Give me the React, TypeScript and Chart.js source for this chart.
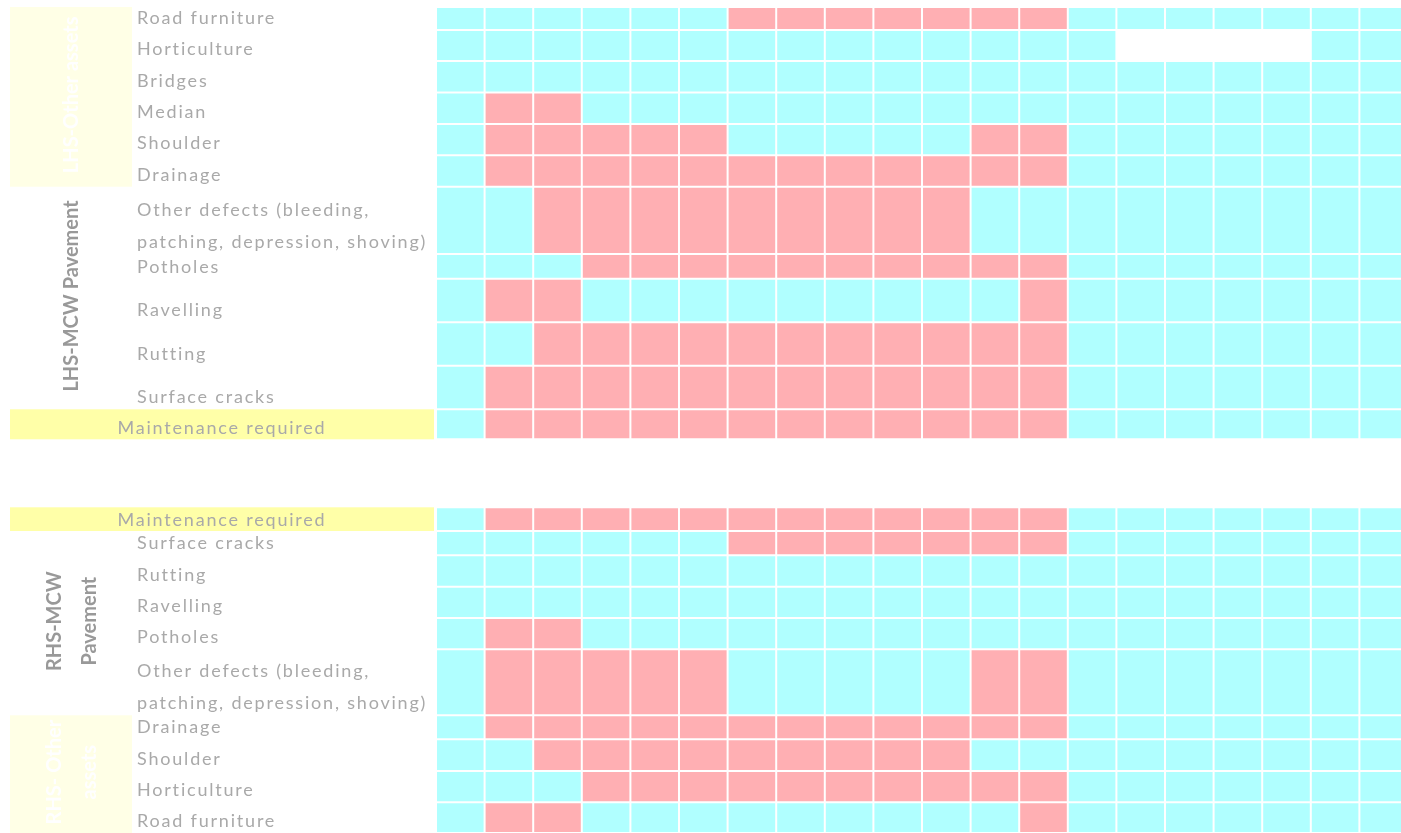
import React, { useEffect, useRef } from 'react';
import { Chart, registerables } from 'chart.js';

Chart.register(...registerables);

// ---------- DATA ----------
// 20 inspection columns (chainage segments)
const COLUMNS = ['1', '2', '3', '4', '5', '6', '7', '8', '9', '10', '11', '12', '13', '14', '15', '16', '17', '18', '19', '20'];

// status: 1 = maintenance required (red), 0 = fine (cyan), null = no data (blank)
const LHS_OTHER_ASSETS = ['Road furniture', 'Horticulture', 'Bridges', 'Median', 'Shoulder', 'Drainage'];
const LHS_OTHER_STATUS = [
  [0, 0, 0, 0, 0, 0, 1, 1, 1, 1, 1, 1, 1, 0, 0, 0, 0, 0, 0, 0],
  [0, 0, 0, 0, 0, 0, 0, 0, 0, 0, 0, 0, 0, 0, null, null, null, null, 0, 0],
  [0, 0, 0, 0, 0, 0, 0, 0, 0, 0, 0, 0, 0, 0, 0, 0, 0, 0, 0, 0],
  [0, 1, 1, 0, 0, 0, 0, 0, 0, 0, 0, 0, 0, 0, 0, 0, 0, 0, 0, 0],
  [0, 1, 1, 1, 1, 1, 0, 0, 0, 0, 0, 1, 1, 0, 0, 0, 0, 0, 0, 0],
  [0, 1, 1, 1, 1, 1, 1, 1, 1, 1, 1, 1, 1, 0, 0, 0, 0, 0, 0, 0],
];

const LHS_PAVEMENT = ['Other defects (bleeding,\npatching, depression, shoving)', 'Potholes', 'Ravelling', 'Rutting', 'Surface cracks'];
const LHS_PAVEMENT_STATUS = [
  [0, 0, 1, 1, 1, 1, 1, 1, 1, 1, 1, 0, 0, 0, 0, 0, 0, 0, 0, 0],
  [0, 0, 0, 1, 1, 1, 1, 1, 1, 1, 1, 1, 1, 0, 0, 0, 0, 0, 0, 0],
  [0, 1, 1, 0, 0, 0, 0, 0, 0, 0, 0, 0, 1, 0, 0, 0, 0, 0, 0, 0],
  [0, 0, 1, 1, 1, 1, 1, 1, 1, 1, 1, 1, 1, 0, 0, 0, 0, 0, 0, 0],
  [0, 1, 1, 1, 1, 1, 1, 1, 1, 1, 1, 1, 1, 0, 0, 0, 0, 0, 0, 0],
];

const LHS_MAINTENANCE = [0, 1, 1, 1, 1, 1, 1, 1, 1, 1, 1, 1, 1, 0, 0, 0, 0, 0, 0, 0];
const RHS_MAINTENANCE = [0, 1, 1, 1, 1, 1, 1, 1, 1, 1, 1, 1, 1, 0, 0, 0, 0, 0, 0, 0];

const RHS_PAVEMENT = ['Surface cracks', 'Rutting', 'Ravelling', 'Potholes', 'Other defects (bleeding,\npatching, depression, shoving)'];
const RHS_PAVEMENT_STATUS = [
  [0, 0, 0, 0, 0, 0, 1, 1, 1, 1, 1, 1, 1, 0, 0, 0, 0, 0, 0, 0],
  [0, 0, 0, 0, 0, 0, 0, 0, 0, 0, 0, 0, 0, 0, 0, 0, 0, 0, 0, 0],
  [0, 0, 0, 0, 0, 0, 0, 0, 0, 0, 0, 0, 0, 0, 0, 0, 0, 0, 0, 0],
  [0, 1, 1, 0, 0, 0, 0, 0, 0, 0, 0, 0, 0, 0, 0, 0, 0, 0, 0, 0],
  [0, 1, 1, 1, 1, 1, 0, 0, 0, 0, 0, 1, 1, 0, 0, 0, 0, 0, 0, 0],
];

const RHS_OTHER_ASSETS = ['Drainage', 'Shoulder', 'Horticulture', 'Road furniture'];
const RHS_OTHER_STATUS = [
  [0, 1, 1, 1, 1, 1, 1, 1, 1, 1, 1, 1, 1, 0, 0, 0, 0, 0, 0, 0],
  [0, 0, 1, 1, 1, 1, 1, 1, 1, 1, 1, 0, 0, 0, 0, 0, 0, 0, 0, 0],
  [0, 0, 0, 1, 1, 1, 1, 1, 1, 1, 1, 1, 1, 0, 0, 0, 0, 0, 0, 0],
  [0, 1, 1, 0, 0, 0, 0, 0, 0, 0, 0, 0, 1, 0, 0, 0, 0, 0, 0, 0],
];

const MAINTENANCE_LABEL = 'Maintenance required';
const GROUP_TITLES = {
  lhsOther: ['LHS-Other assets'],
  lhsPave: ['LHS-MCW Pavement'],
  rhsPave: ['RHS-MCW', 'Pavement'],
  rhsOther: ['RHS- Other', 'assets'],
};

// ---------- LAYOUT (sheet row heights, px) ----------
const H_LHS_OTHER = [23, 31, 31.5, 31.5, 31.3, 31.4];
const H_LHS_PAVE = [67.3, 24.7, 43.6, 43.4, 43.6];
const H_LHS_MAINT = 30;
const H_GAP = 68;
const H_RHS_MAINT = 23.7;
const H_RHS_PAVE = [24.3, 31.4, 31.3, 31.3, 66];
const H_RHS_OTHER = [24, 31.7, 31.3, 30.7];

const RED = '#FFAFB3';
const CYAN = '#B0FFFF';
const BAND = '#FFFFA8';
const PALE = '#FFFFE6';
const LABEL_COLOR = '#A9A9A9';
const GROUP_COLOR = '#999999';

type Row = { label: string | null; status: (number | null)[] | null; height: number; band?: boolean; group?: string };

function buildRows(): Row[] {
  const rows: Row[] = [];
  LHS_OTHER_ASSETS.forEach((l, i) => rows.push({ label: l, status: LHS_OTHER_STATUS[i], height: H_LHS_OTHER[i], group: 'lhsOther' }));
  LHS_PAVEMENT.forEach((l, i) => rows.push({ label: l, status: LHS_PAVEMENT_STATUS[i], height: H_LHS_PAVE[i], group: 'lhsPave' }));
  rows.push({ label: MAINTENANCE_LABEL, status: LHS_MAINTENANCE, height: H_LHS_MAINT, band: true });
  rows.push({ label: null, status: null, height: H_GAP });
  rows.push({ label: MAINTENANCE_LABEL, status: RHS_MAINTENANCE, height: H_RHS_MAINT, band: true });
  RHS_PAVEMENT.forEach((l, i) => rows.push({ label: l, status: RHS_PAVEMENT_STATUS[i], height: H_RHS_PAVE[i], group: 'rhsPave' }));
  RHS_OTHER_ASSETS.forEach((l, i) => rows.push({ label: l, status: RHS_OTHER_STATUS[i], height: H_RHS_OTHER[i], group: 'rhsOther' }));
  return rows;
}

const ROWS = buildRows();

function rowExtents() {
  const out: { start: number; end: number }[] = [];
  let acc = 0;
  ROWS.forEach((r) => {
    out.push({ start: acc, end: acc + r.height });
    acc += r.height;
  });
  return { out, total: acc };
}

const tablePlugin = {
  id: 'tableLabels',
  beforeDraw(chart: any) {
    const { ctx, chartArea } = chart;
    const y = chart.scales.y;
    const { out } = rowExtents();
    ctx.save();
    ctx.fillStyle = '#ffffff';
    ctx.fillRect(0, 0, chart.width, chart.height);
    // maintenance bands
    ROWS.forEach((r, i) => {
      if (!r.band) return;
      const t = y.getPixelForValue(out[i].start);
      const b = y.getPixelForValue(out[i].end);
      ctx.fillStyle = BAND;
      ctx.fillRect(10, t, chartArea.left - 12, b - t);
    });
    // pale boxes for "other assets" groups
    ['lhsOther', 'rhsOther'].forEach((g) => {
      const idx = ROWS.map((r, i) => (r.group === g ? i : -1)).filter((i) => i >= 0);
      const t = y.getPixelForValue(out[idx[0]].start);
      const b = y.getPixelForValue(out[idx[idx.length - 1]].end);
      ctx.fillStyle = PALE;
      ctx.fillRect(10, t, 122, b - t);
    });
    ctx.restore();
  },
  afterDraw(chart: any) {
    const { ctx, chartArea } = chart;
    const y = chart.scales.y;
    const { out } = rowExtents();
    ctx.save();
    ctx.textBaseline = 'alphabetic';
    // row labels
    ROWS.forEach((r, i) => {
      if (!r.label) return;
      const b = y.getPixelForValue(out[i].end);
      ctx.font = '18px Lato';
      (ctx as any).letterSpacing = '1.8px';
      ctx.fillStyle = LABEL_COLOR;
      if (r.band) {
        ctx.textAlign = 'center';
        ctx.fillText(r.label, (10 + chartArea.left - 2) / 2, b - 5.5);
      } else {
        ctx.textAlign = 'left';
        const lines = r.label.split('\n');
        lines.forEach((ln, k) => {
          ctx.fillText(ln, 137, b - 6 - (lines.length - 1 - k) * 32);
        });
      }
    });
    // group titles (rotated)
    Object.keys(GROUP_TITLES).forEach((g) => {
      const idx = ROWS.map((r, i) => (r.group === g ? i : -1)).filter((i) => i >= 0);
      const t = y.getPixelForValue(out[idx[0]].start);
      const b = y.getPixelForValue(out[idx[idx.length - 1]].end);
      const cy = (t + b) / 2 - 2;
      const lines = (GROUP_TITLES as any)[g] as string[];
      const white = g === 'lhsOther' || g === 'rhsOther';
      ctx.font = 'bold 20px Lato';
      (ctx as any).letterSpacing = '0px';
      ctx.fillStyle = white ? '#ffffff' : GROUP_COLOR;
      ctx.textAlign = 'center';
      ctx.textBaseline = 'middle';
      lines.forEach((ln, k) => {
        const cx = lines.length === 1 ? 72 : 55 + k * 35;
        ctx.save();
        ctx.translate(cx, cy);
        ctx.rotate(-Math.PI / 2);
        ctx.fillText(ln, 0, 0);
        ctx.restore();
      });
    });
    ctx.restore();
  },
};

export default function App() {
  const ref = useRef<HTMLCanvasElement | null>(null);
  useEffect(() => {
    if (!ref.current) return;
    const { total } = rowExtents();
    const datasets = ROWS.map((r) => ({
      label: r.label || 'gap',
      data: COLUMNS.map(() => r.height),
      backgroundColor: r.status
        ? r.status.map((s) => (s === null ? '#ffffff' : s === 1 ? RED : CYAN))
        : 'rgba(0,0,0,0)',
      borderColor: '#ffffff',
      borderWidth: r.status ? 1 : 0,
      borderSkipped: false as const,
      inflateAmount: 0,
      barPercentage: 1,
      categoryPercentage: 1,
    }));
    const chart = new Chart(ref.current, {
      type: 'bar',
      data: { labels: COLUMNS, datasets },
      options: {
        animation: false,
        responsive: false,
        layout: { padding: { left: 436, top: 7, right: 0, bottom: 0 } },
        plugins: { legend: { display: false }, tooltip: { enabled: false } },
        scales: {
          x: { stacked: true, display: false },
          y: { stacked: true, display: false, reverse: true, min: 0, max: total },
        },
      },
      plugins: [tablePlugin],
    });
    return () => chart.destroy();
  }, []);
  return (
    <div style={{ position: 'absolute', left: 0, top: 0, width: 1401, height: 833, overflow: 'hidden', background: '#fff' }}>
      <canvas ref={ref} width={1408} height={833} style={{ width: 1408, height: 833, display: 'block' }} />
    </div>
  );
}
